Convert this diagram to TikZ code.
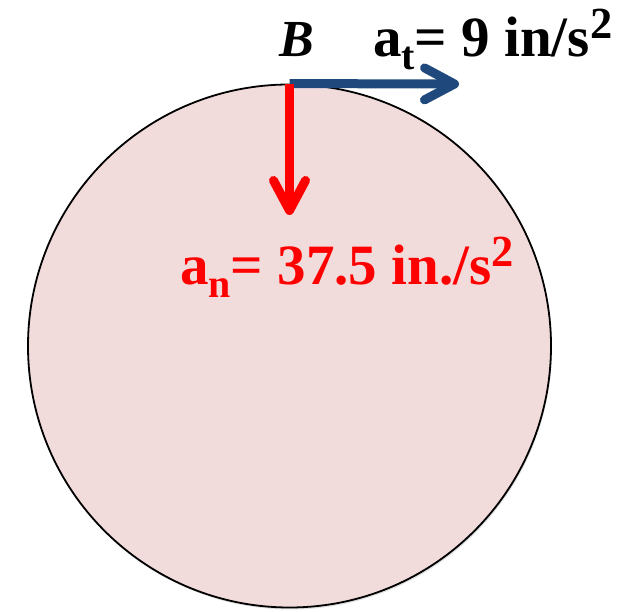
\documentclass[tikz,border=0pt]{standalone}
\usepackage{fontspec}
\setmainfont{Liberation Serif}
\usepackage{tikz}
\usetikzlibrary{arrows.meta,positioning,shapes,shadows}
\usepackage{xcolor}
\definecolor{diskpink}{HTML}{F2DCDB}
\definecolor{atblue}{HTML}{1F497D}
\definecolor{anred}{HTML}{FF0000}

\newcommand{\subidx}[1]{\raisebox{-0.22em}{\scalebox{0.7}{#1}}}
\newcommand{\supidx}[1]{\raisebox{0.32em}{\scalebox{0.78}{#1}}}

\tikzset{
  disk/.style={circle, draw=black, line width=1.8pt, fill=diskpink, minimum size=523pt, inner sep=0pt,
    drop shadow={opacity=0.25, shadow xshift=1pt, shadow yshift=-2pt}},
  accvec/.style={line width=9pt, -{Straight Barb[length=30pt, width=32pt, round]}},
  lbl/.style={inner sep=0pt, font=\fontsize{57}{64}\selectfont\bfseries},
}

\begin{document}
\begin{tikzpicture}[x=1pt, y=1pt]
  \useasboundingbox (0,0) rectangle (632,612);
  % 円板
  \node[disk] (wheel) at (289.5,266) {};
  \coordinate (B) at (wheel.north);
  \coordinate (antip) at (289.5,397);
  \coordinate (attip) at (459,528);

  % ラベル
  \node[lbl, anchor=base] (Blbl) at (297,555) {\fontsize{52}{60}\selectfont\itshape B};
  \node[lbl, anchor=base west] (atlbl) at (373,555) {a\subidx{t}= 9 in/s\supidx{2}};
  \node[lbl, anchor=base west, text=anred] (anlbl) at (180,327) {a\subidx{n}= 37.5 in./s\supidx{2}};

  % 加速度
  \draw[accvec, atblue] (B) -- (attip);
  \draw[accvec, anred] (B) -- (antip);
\end{tikzpicture}
\end{document}
